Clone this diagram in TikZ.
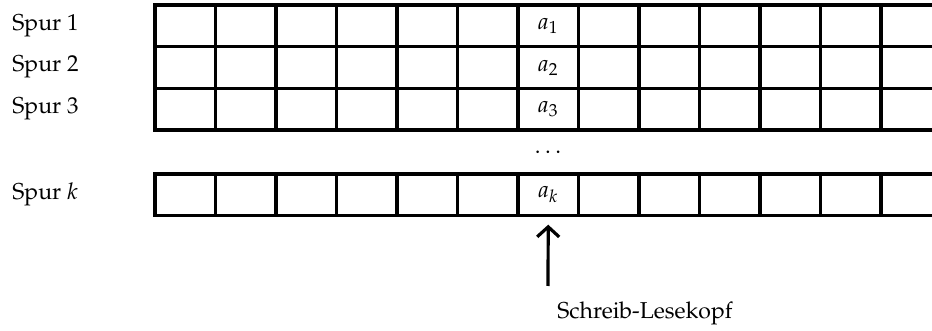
\documentclass[tikz,border=0pt]{standalone}
\usepackage[T1]{fontenc}
\usepackage{mathpazo}
\usetikzlibrary{arrows.meta,positioning}

\begin{document}
\begin{tikzpicture}[x=0.5pt,y=-0.5pt,
  zelle/.style={draw, line width=1.7pt, minimum width=30.25pt, minimum height=20.85pt, inner sep=0pt, outer sep=0pt, anchor=north west},
  spur/.style={anchor=west, inner sep=0pt},
  font=\fontsize{11.5}{14}\selectfont,
  >={Straight Barb[length=5pt,width=11pt]}]
  \useasboundingbox (0,0) rectangle (932,331);
  % Spuren des Bandes
  \begin{scope}
    \clip (0,0) rectangle (932,331);
    \foreach \r/\y/\t in {1/5/$a_1$,2/46.7/$a_2$,3/88.4/$a_3$,k/174/$a_k$}{
      \foreach \i in {0,...,12}{
        \node[zelle] (z\r-\i) at ({155+60.5*\i},\y) {\ifnum\i=6 \t\fi};
      }
    }
  \end{scope}
  \node[spur] (s1) at (12,25.5) {Spur 1};
  \node[spur] (s2) at (12,67) {Spur 2};
  \node[spur] (s3) at (12,108.5) {Spur 3};
  \node[spur] (sk) at (12,194.5) {Spur $k$};
  \node[inner sep=0pt] (punkte) at (548,152) {$\dots$};
  % Kopf
  \coordinate (fuss) at (548,286);
  \draw[->, line width=1.6pt, shorten >=4.5pt] (fuss) -- (zk-6.south);
  \node[anchor=west, inner sep=0pt] (kopf) at (557,313) {Schreib-Lesekopf};
\end{tikzpicture}
\end{document}
